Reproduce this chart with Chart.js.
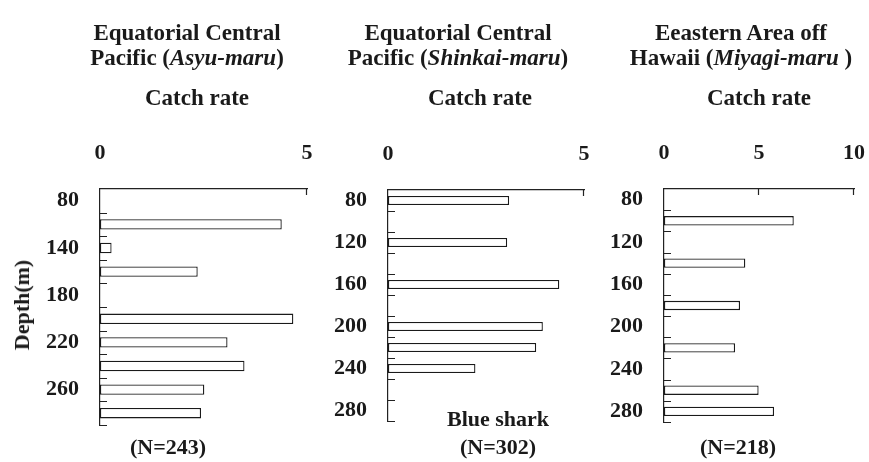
<!DOCTYPE html>
<html>
<head>
<meta charset="utf-8">
<script src="https://cdn.jsdelivr.net/npm/chart.js@4/dist/chart.umd.min.js"></script>
<style>
  html, body { margin: 0; padding: 0; background: #fff; }
  #wrap { position: relative; width: 869px; height: 462px; overflow: hidden; background: #fff;
          font-family: "Liberation Serif", "DejaVu Serif", serif; font-weight: bold; color: #1a1a1a; }
  .pane { position: absolute; top: 0; height: 462px; }
  .txt { position: absolute; font-size: 23px; line-height: 25px; text-align: center; white-space: nowrap;
         transform: translateX(-50%); }
  .c { position: absolute; font-size: 22px; white-space: nowrap; transform: translate(-50%, -50%); }
  i { font-style: italic; }
</style>
</head>
<body>
<div id="wrap">
  <div class="pane" style="left:0px;width:330px"><canvas id="c1" width="330" height="462"></canvas></div>
  <div class="pane" style="left:320px;width:290px"><canvas id="c2" width="290" height="462"></canvas></div>
  <div class="pane" style="left:600px;width:269px"><canvas id="c3" width="269" height="462"></canvas></div>

  <div class="txt" style="left:187px;top:20px">Equatorial Central<br>Pacific (<i>Asyu-maru</i>)</div>
  <div class="txt" style="left:458px;top:20px">Equatorial Central<br>Pacific (<i>Shinkai-maru</i>)</div>
  <div class="txt" style="left:741px;top:20px">Eeastern Area off<br>Hawaii (<i>Miyagi-maru</i> )</div>

  <div class="txt" style="left:197px;top:85px">Catch rate</div>
  <div class="txt" style="left:480px;top:85px">Catch rate</div>
  <div class="txt" style="left:759px;top:85px">Catch rate</div>

  <div class="c" style="left:22px;top:305px;transform:translate(-50%,-50%) rotate(-90deg)">Depth(m)</div>
  <div class="c" style="left:498px;top:419px">Blue shark</div>
  <div class="c" style="left:168px;top:447px">(N=243)</div>
  <div class="c" style="left:498px;top:447px">(N=302)</div>
  <div class="c" style="left:738px;top:447px">(N=218)</div>
</div>
<script>
// Depth-class tick labels (as printed) and catch rates
const depthLabels1 = ['80', '', '140', '', '180', '', '220', '', '260', ''];
const catchRate1   = [null, 4.39, 0.28, 2.36, null, 4.67, 3.08, 3.49, 2.52, 2.44];

const depthLabels2 = ['80', '', '120', '', '160', '', '200', '', '240', '', '280'];
const catchRate2   = [3.09, null, 3.04, null, 4.37, null, 3.95, 3.78, 2.23, null, null];

const depthLabels3 = ['80', '', '120', '', '160', '', '200', '', '240', '', '280'];
const catchRate3   = [null, 6.83, null, 4.28, null, 4.00, null, 3.74, null, 4.98, 5.79];

const xMax1 = 5, xMax2 = 5, xMax3 = 10;
const xStep = 5;

const FONT = { family: '"Liberation Serif", "DejaVu Serif", serif', size: 22, weight: 'bold' };
const INK = '#1a1a1a';

const innerTicks = {
  id: 'innerTicks',
  afterDatasetsDraw(chart) {
    const { ctx, chartArea, scales } = chart;
    const x = scales.x, y = scales.y;
    ctx.save();
    ctx.strokeStyle = '#222';
    ctx.lineWidth = 1.2;
    ctx.beginPath();
    const n = y.getLabels().length;
    for (let i = 1; i <= n; i++) {
      const py = Math.round(y.getPixelForValue(i - 0.5)) + 0.5;
      ctx.moveTo(chartArea.left, py);
      ctx.lineTo(chartArea.left + 7, py);
    }
    x.ticks.forEach(t => {
      if (t.value === x.min) return;
      const px = Math.round(x.getPixelForValue(t.value)) - 0.5;
      ctx.moveTo(px, chartArea.top);
      ctx.lineTo(px, chartArea.top + 6);
    });
    ctx.stroke();
    ctx.restore();
  }
};

function makeChart(id, labels, values, xMax, yWidth, xHeight, padRight, padBottom) {
  Chart.defaults.devicePixelRatio = 1;
  return new Chart(document.getElementById(id), {
    type: 'bar',
    data: {
      labels: labels,
      datasets: [{
        data: values,
        backgroundColor: '#ffffff',
        borderColor: '#1a1a1a',
        borderWidth: 1.3,
        borderSkipped: false,
        barPercentage: 0.44,
        categoryPercentage: 1.0
      }]
    },
    options: {
      indexAxis: 'y',
      responsive: false,
      animation: false,
      devicePixelRatio: 1,
      layout: { padding: { left: 0, top: 0, right: padRight, bottom: padBottom } },
      plugins: { legend: { display: false }, tooltip: { enabled: false }, title: { display: false } },
      scales: {
        x: {
          type: 'linear',
          position: 'top',
          min: 0,
          max: xMax,
          grid: { display: false, drawTicks: false },
          border: { display: true, color: '#222', width: 1.2 },
          ticks: { stepSize: xStep, padding: 22, color: INK, font: FONT, maxRotation: 0 },
          afterFit(scale) { scale.height = xHeight; scale.paddingLeft = 0; scale.paddingRight = 0; }
        },
        y: {
          type: 'category',
          position: 'left',
          grid: { display: false, drawTicks: false },
          border: { display: true, color: '#222', width: 1.2 },
          ticks: { autoSkip: false, padding: 21, color: INK, font: FONT },
          afterFit(scale) { scale.width = yWidth; scale.paddingTop = 0; scale.paddingBottom = 0; }
        }
      }
    },
    plugins: [innerTicks]
  });
}

makeChart('c1', depthLabels1, catchRate1, xMax1, 100, 189, 23, 37);
makeChart('c2', depthLabels2, catchRate2, xMax2, 68, 190, 26, 41);
makeChart('c3', depthLabels3, catchRate3, xMax3, 64, 189, 15, 40);
</script>
</body>
</html>
